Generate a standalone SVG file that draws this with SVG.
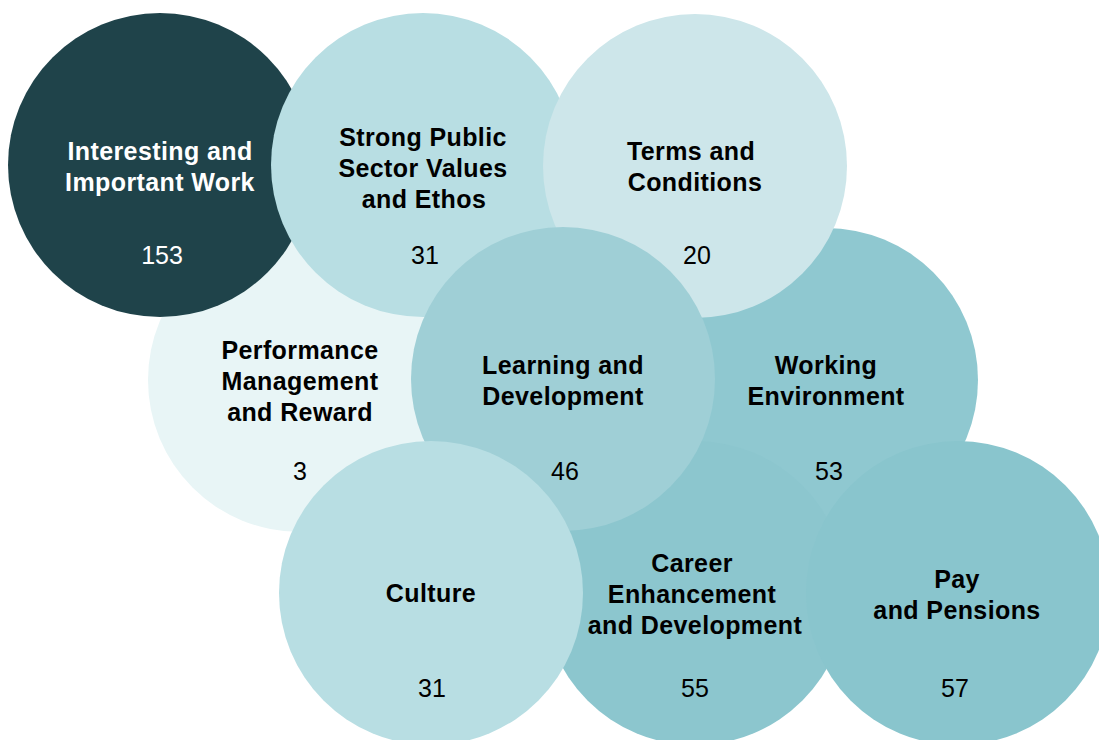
<svg xmlns="http://www.w3.org/2000/svg" width="1099" height="740" viewBox="0 0 1099 740">
  <style>
    .lbl { font-family: "Liberation Sans", Arial, sans-serif; font-size: 25px; font-weight: bold; text-anchor: middle; fill: #000; letter-spacing: 0.4px; }
    .num { font-family: "Liberation Sans", Arial, sans-serif; font-size: 25px; text-anchor: middle; fill: #000; }
    .light { fill: #fff; }
  </style>
  <rect width="1099" height="740" fill="#fff"/>
  <g id="connectors"/>
  <!-- drawn back to front -->
  <g id="performance">
    <circle cx="300" cy="380" r="152" fill="#e8f5f6"/>
    <text class="lbl" x="300" y="359">Performance</text>
    <text class="lbl" x="300" y="390">Management</text>
    <text class="lbl" x="300" y="421">and Reward</text>
    <text class="num" x="300" y="480">3</text>
  </g>
  <g id="working-environment">
    <circle cx="826" cy="380" r="152" fill="#8fc8d0"/>
    <text class="lbl" x="826" y="374">Working</text>
    <text class="lbl" x="826" y="405">Environment</text>
    <text class="num" x="829" y="480">53</text>
  </g>
  <g id="career">
    <circle cx="695" cy="593" r="152" fill="#8cc6ce"/>
    <text class="lbl" x="692" y="572">Career</text>
    <text class="lbl" x="692" y="603">Enhancement</text>
    <text class="lbl" x="695" y="634">and Development</text>
    <text class="num" x="695" y="697">55</text>
  </g>
  <g id="interesting-work">
    <circle cx="160" cy="165" r="152" fill="#1f434a"/>
    <text class="lbl light" x="160" y="160">Interesting and</text>
    <text class="lbl light" x="160" y="191">Important Work</text>
    <text class="num light" x="162" y="264">153</text>
  </g>
  <g id="public-sector-values">
    <circle cx="423" cy="165" r="152" fill="#b8dee3"/>
    <text class="lbl" x="423" y="146">Strong Public</text>
    <text class="lbl" x="423" y="177">Sector Values</text>
    <text class="lbl" x="424" y="208">and Ethos</text>
    <text class="num" x="425" y="264">31</text>
  </g>
  <g id="terms-conditions">
    <circle cx="695" cy="166" r="152" fill="#cde6ea"/>
    <text class="lbl" x="691" y="160">Terms and</text>
    <text class="lbl" x="695" y="191">Conditions</text>
    <text class="num" x="697" y="264">20</text>
  </g>
  <g id="learning">
    <circle cx="563" cy="379" r="152" fill="#9fcfd6"/>
    <text class="lbl" x="563" y="374">Learning and</text>
    <text class="lbl" x="563" y="405">Development</text>
    <text class="num" x="565" y="480">46</text>
  </g>
  <g id="culture">
    <circle cx="431" cy="593" r="152" fill="#b8dee3"/>
    <text class="lbl" x="431" y="602">Culture</text>
    <text class="num" x="432" y="697">31</text>
  </g>
  <g id="pay-pensions">
    <circle cx="958" cy="593" r="152" fill="#89c5cd"/>
    <text class="lbl" x="957" y="588">Pay</text>
    <text class="lbl" x="957" y="619">and Pensions</text>
    <text class="num" x="955" y="697">57</text>
  </g>
</svg>
